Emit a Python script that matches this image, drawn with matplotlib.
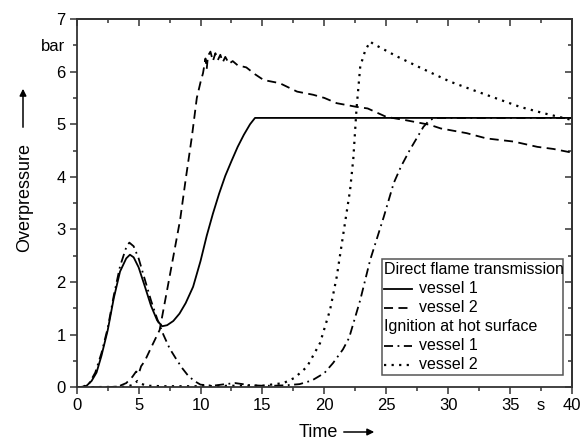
import numpy as np
import matplotlib
matplotlib.use('Agg')
import matplotlib.pyplot as plt
from matplotlib.ticker import FixedLocator, FixedFormatter

plt.rcParams['font.family'] = ['Liberation Sans', 'DejaVu Sans']
plt.rcParams['font.size'] = 11.5

# Direct flame transmission, vessel 1 (solid)
t_dir1 = [0, 0.5, 0.8, 1.2, 1.6, 2.0, 2.5, 3.0, 3.5, 4.0, 4.3, 4.6, 5.0, 5.5, 6.0, 6.5,
          6.9, 7.3, 7.8, 8.3, 8.8, 9.4, 10.0, 10.5, 11.0, 11.5, 12.0, 12.5, 13.0, 13.5,
          14.0, 14.4, 40]
p_dir1 = [0, 0.01, 0.03, 0.12, 0.28, 0.6, 1.08, 1.7, 2.2, 2.45, 2.52, 2.47, 2.28, 1.92,
          1.55, 1.27, 1.16, 1.18, 1.26, 1.4, 1.6, 1.91, 2.4, 2.88, 3.3, 3.68, 4.02, 4.3,
          4.57, 4.8, 5.0, 5.12, 5.12]

# Direct flame transmission, vessel 2 (dashed)
t_dir2 = [0, 2.5, 3.0, 3.5, 4.0, 4.5, 4.8, 5.0, 5.2, 5.5, 6.0, 6.7, 7.5, 8.35, 8.8, 9.3,
          9.7, 10.0, 10.2, 10.4, 10.5, 10.6, 10.8, 11.0, 11.2, 11.4, 11.6, 11.8, 12.0,
          12.3, 12.6, 13.0, 13.7, 14.4, 15.1, 16.4, 17.8, 19.1, 20.0, 21.0, 22.6, 23.5,
          25.0, 26.5, 28.5, 29.4, 31.5, 33.1, 35.3, 37.2, 38.5, 40]
p_dir2 = [0, 0, 0.01, 0.03, 0.08, 0.2, 0.3, 0.25, 0.4, 0.5, 0.75, 1.09, 2.1, 3.18, 3.95,
          4.76, 5.5, 5.8, 5.97, 6.25, 6.05, 6.3, 6.38, 6.2, 6.35, 6.22, 6.32, 6.18, 6.28,
          6.15, 6.2, 6.12, 6.08, 5.95, 5.84, 5.78, 5.62, 5.56, 5.5, 5.4, 5.33, 5.3, 5.14,
          5.08, 4.99, 4.92, 4.83, 4.73, 4.67, 4.57, 4.53, 4.46]

# Ignition at hot surface, vessel 1 (dash-dot)
t_ign1 = [0, 0.5, 1.0, 1.5, 2.0, 2.5, 3.0, 3.5, 4.0, 4.25, 4.6, 5.0, 5.5, 6.0, 6.5, 7.0,
          7.5, 8.0, 8.5, 9.0, 9.5, 10.0, 11, 12, 12.8, 14, 15, 16, 17, 18, 19, 20, 20.7,
          21.5, 22.0, 22.9, 23.7, 24.8, 25.6, 26.2, 26.9, 27.5, 28.0, 28.5, 29.0, 40]
p_ign1 = [0, 0.01, 0.07, 0.28, 0.65, 1.12, 1.75, 2.3, 2.66, 2.75, 2.68, 2.45, 2.05, 1.65,
          1.3, 1.0, 0.74, 0.55, 0.37, 0.22, 0.12, 0.05, 0.03, 0.06, 0.08, 0.04, 0.03, 0.03,
          0.04, 0.06, 0.13, 0.27, 0.46, 0.72, 0.94, 1.66, 2.42, 3.24, 3.88, 4.2, 4.51,
          4.75, 4.95, 5.08, 5.12, 5.12]

# Ignition at hot surface, vessel 2 (dotted)
t_ign2 = [0, 4.0, 4.6, 4.9, 5.2, 5.6, 7, 10, 13, 15, 16.7, 17.6, 18.6, 19.65, 20.46, 21.0,
          21.54, 22.08, 22.34, 22.6, 22.9, 23.3, 23.7, 24.0, 24.5, 25.85, 27.7, 30.15,
          32.0, 33.9, 35.8, 37.7, 40]
p_ign2 = [0, 0.01, 0.05, 0.12, 0.07, 0.03, 0.02, 0.02, 0.03, 0.03, 0.08, 0.18, 0.39,
          0.84, 1.47, 2.1, 2.93, 3.75, 4.35, 5.3, 6.1, 6.4, 6.57, 6.52, 6.46, 6.29, 6.08,
          5.81, 5.65, 5.49, 5.33, 5.21, 5.08]

legend_head = ['Direct flame transmission', 'Ignition at hot surface']
legend_items = ['vessel 1', 'vessel 2']

x_major = np.arange(0, 41, 5)
x_minor = np.arange(2.5, 40, 5)
x_minor_labels = [''] * 7 + ['s']
y_major = np.arange(0, 8, 1)
y_minor = np.arange(0.5, 7, 1)
y_minor_labels = [''] * 6 + ['bar']

frame = '#333333'
lw = 1.3
styles = ['-', (0, (5, 3)), (0, (5, 2.5, 1, 2.5)), (0, (1, 2.4))]
widths = [lw, lw, lw, 1.6]

fig = plt.figure(figsize=(5.82, 4.4), dpi=100)
ax = fig.add_axes([0.1318, 0.1198, 0.851, 0.837])

ax.plot(t_dir1, p_dir1, color='black', lw=widths[0], ls=styles[0])
ax.plot(t_dir2, p_dir2, color='black', lw=widths[1], ls=styles[1])
ax.plot(t_ign1, p_ign1, color='black', lw=widths[2], ls=styles[2])
ax.plot(t_ign2, p_ign2, color='black', lw=widths[3], ls=styles[3])

ax.set_xlim(0, 40)
ax.set_ylim(0, 7)

ax.xaxis.set_major_locator(FixedLocator(x_major))
ax.xaxis.set_minor_locator(FixedLocator(x_minor))
ax.xaxis.set_minor_formatter(FixedFormatter(x_minor_labels))
ax.yaxis.set_major_locator(FixedLocator(y_major))
ax.yaxis.set_minor_locator(FixedLocator(y_minor))
ax.yaxis.set_minor_formatter(FixedFormatter(y_minor_labels))

ax.tick_params(which='major', direction='out', length=5, width=1.1, color=frame, labelsize=12, pad=3)
ax.tick_params(which='minor', direction='out', length=3, width=1.1, color=frame, labelsize=12, pad=5)

for sp in ax.spines.values():
    sp.set_color(frame)
    sp.set_linewidth(1.3)

top = ax.secondary_xaxis('top')
top.xaxis.set_major_locator(FixedLocator(x_major))
top.xaxis.set_minor_locator(FixedLocator(x_minor))
top.tick_params(which='both', direction='in', labeltop=False, color=frame, width=1.1)
top.tick_params(which='major', length=5)
top.tick_params(which='minor', length=3)
top.spines['top'].set_color(frame)
top.spines['top'].set_linewidth(1.3)

right = ax.secondary_yaxis('right')
right.yaxis.set_major_locator(FixedLocator(y_major))
right.yaxis.set_minor_locator(FixedLocator(y_minor))
right.tick_params(which='both', direction='in', labelright=False, color=frame, width=1.1)
right.tick_params(which='major', length=5)
right.tick_params(which='minor', length=3)
right.spines['right'].set_color(frame)
right.spines['right'].set_linewidth(1.3)

# axis titles with arrows
fig.text(25 / 582, 1 - 198 / 440, 'Overpressure', rotation=90, ha='center', va='center', fontsize=13)
fig.add_artist(matplotlib.patches.FancyArrowPatch(
    (23 / 582, 1 - 130 / 440), (23 / 582, 1 - 86 / 440), transform=fig.transFigure,
    arrowstyle='-|>', mutation_scale=10, color='black', lw=1.1))
fig.text(318 / 582, 1 - 432 / 440, 'Time', ha='center', va='center', fontsize=13)
fig.add_artist(matplotlib.patches.FancyArrowPatch(
    (341 / 582, 1 - 432 / 440), (377 / 582, 1 - 432 / 440), transform=fig.transFigure,
    arrowstyle='-|>', mutation_scale=10, color='black', lw=1.1))

# legend box drawn by hand (group headers without handles)
box = matplotlib.patches.Rectangle((0.6164, 0.0334), 0.9818 - 0.6164, 0.3484 - 0.0334,
                                   transform=ax.transAxes, fill=True, facecolor='white',
                                   edgecolor='#555555', lw=1.1, zorder=5)
ax.add_patch(box)
rows = [0.3185, 0.2670, 0.2154, 0.1638, 0.1122, 0.0606]
x_text = 0.6204
x_h0, x_h1 = 0.6204, 0.6769
x_item = 0.6911
k = 0
for g in range(2):
    ax.text(x_text, rows[3 * g], legend_head[g], transform=ax.transAxes, va='center', ha='left',
            fontsize=11.5, zorder=6)
    for i in range(2):
        y = rows[3 * g + 1 + i]
        ax.plot([x_h0, x_h1], [y, y], transform=ax.transAxes, color='black', lw=widths[k],
                ls=styles[k], zorder=6, clip_on=False)
        ax.text(x_item, y, legend_items[i], transform=ax.transAxes, va='center', ha='left',
                fontsize=11.5, zorder=6)
        k += 1

fig.savefig('out.png', dpi=100)
